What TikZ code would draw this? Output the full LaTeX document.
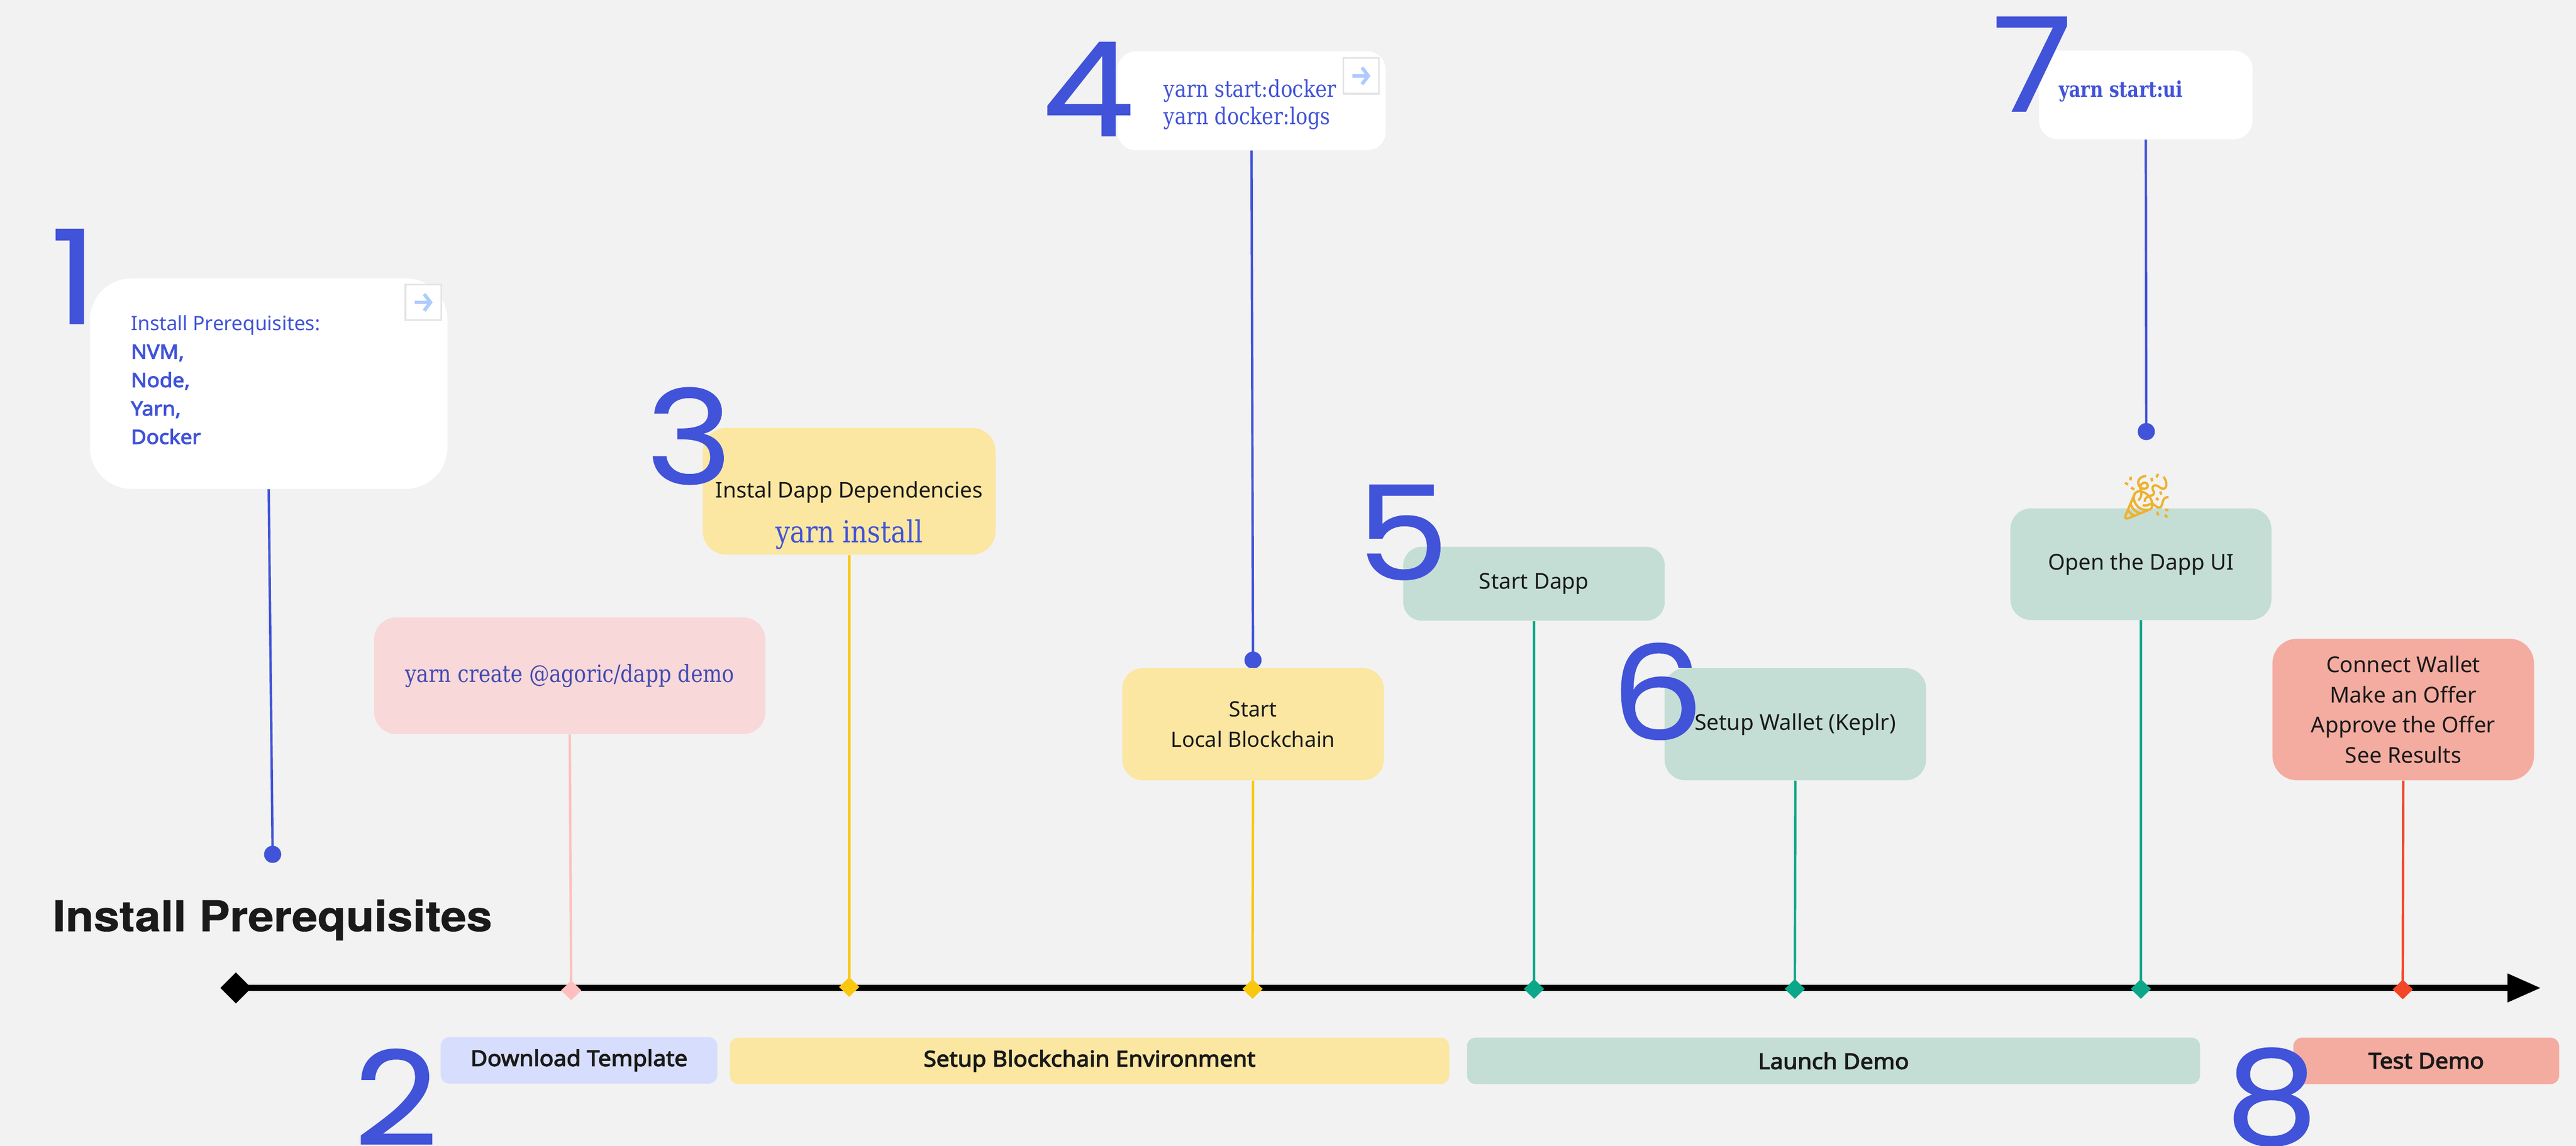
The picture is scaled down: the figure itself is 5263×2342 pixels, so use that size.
\documentclass[tikz,border=0pt]{standalone}
\usepackage{fontspec}
\setmainfont[BoldFont={Noto Sans},BoldFeatures={FakeBold=3.2,FakeStretch=1.06}]{Noto Sans}
\newfontfamily\numfont[FakeStretch=1.12,FakeBold=0.7]{Poppins}
\newfontfamily\titlefont[FakeStretch=1.09,BoldFeatures={FakeBold=0.8}]{TeX Gyre Heros}
\newfontfamily\slabfont[FakeStretch=0.85]{DejaVu Serif}
\newfontfamily\slabheavy[FakeStretch=0.82]{DejaVu Serif}
\newfontfamily\emojifont[FakeBold=1.2]{Noto Emoji}
\usetikzlibrary{arrows.meta,shapes.geometric}
\definecolor{pagebg}{HTML}{F2F2F2}
\definecolor{inkblue}{HTML}{4153D8}
\definecolor{inkdeep}{HTML}{414BB2}
\definecolor{inkdark}{HTML}{1A1A1A}
\definecolor{softpink}{HTML}{F8D8D9}
\definecolor{softyellow}{HTML}{FBE7A2}
\definecolor{softgreen}{HTML}{C4DED6}
\definecolor{softblue}{HTML}{D7DDFC}
\definecolor{softred}{HTML}{F4ACA0}
\definecolor{linepink}{HTML}{FFBFBF}
\definecolor{lineyellow}{HTML}{FAC710}
\definecolor{linegreen}{HTML}{0CA789}
\definecolor{linered}{HTML}{F24726}
\definecolor{iconblue}{HTML}{AECBFF}
\definecolor{iconedge}{HTML}{E4E4E4}
\definecolor{popper}{HTML}{EDB22E}

\begin{document}
\begin{tikzpicture}[x=0.01cm, y=0.01cm]
\tikzstyle{every node}+=[inner sep=0pt, text=inkdark]
\tikzstyle{card}=[rounded corners=0.42cm, align=center, font=\fontsize{12.7}{17.6}\selectfont]
\tikzstyle{barbox}=[rounded corners=0.18cm, minimum height=0.95cm, font=\fontsize{12.7}{17}\selectfont\bfseries]
\tikzstyle{bignum}=[text=inkblue, font=\fontsize{76}{76}\numfont]
\tikzstyle{axismark}=[diamond, minimum width=0.42cm, minimum height=0.41cm]
\tikzstyle{dotpin}=[circle, fill=inkblue, minimum size=0.35cm]
\tikzstyle{slab}=[text=inkblue, font=\fontsize{13.4}{15.8}\slabfont, align=left]
\tikzstyle{iconbox}=[rectangle, fill=white, draw=iconedge, line width=1pt, minimum size=0.73cm]
\tikzstyle{iconarrow}=[iconblue, line width=2pt, -{Straight Barb[length=0.13cm,width=0.34cm]}]
\tikzstyle{stem}=[line width=1.4pt]
\useasboundingbox (0,0) rectangle (5263,-2342);
\fill [pagebg] (0,0) rectangle (5263,-2342);
\node [diamond, fill=black, minimum size=0.64cm] (start) at (482,-2019) {};
\coordinate (axisend) at (5191,-2019);
\draw [black, line width=0.12cm, -{Triangle[length=0.68cm,width=0.56cm]}] (start.center) -- (axisend);
\node [axismark, fill=linepink] (mtemplate) at (1167,-2024) {};
\node [axismark, fill=lineyellow] (mdeps) at (1735,-2017) {};
\node [axismark, fill=lineyellow] (mchain) at (2559,-2021) {};
\node [axismark, fill=linegreen] (mdapp) at (3134,-2021) {};
\node [axismark, fill=linegreen] (mwallet) at (3667,-2021) {};
\node [axismark, fill=linegreen] (mui) at (4374,-2021) {};
\node [axismark, fill=linered] (mtest) at (4909,-2022) {};
\node [dotpin] (pinprereq) at (557,-1746) {};
\node [dotpin] (pinchain) at (2560,-1349) {};
\node [dotpin] (pinui) at (4385,-882) {};
\node [card, fill=white, rounded corners=0.85cm, minimum width=7.30cm, minimum height=4.30cm] (prereq) at (549,-784) {};
\node [iconbox] (iconprereq) at (865,-618) {};
\coordinate (iconprereqa) at (847,-618);
\coordinate (iconprereqb) at (884,-618);
\draw [iconarrow] (iconprereqa) -- (iconprereqb);
\node [anchor=west, align=left, text=inkblue, font=\fontsize{11.5}{16.5}\selectfont] (prereqtext) at (267,-776) {Install Prerequisites:\\\textbf{NVM,}\\\textbf{Node,}\\\textbf{Yarn,}\\\textbf{Docker}};
\node [card, fill=softpink, rounded corners=0.45cm, minimum width=7.99cm, minimum height=2.38cm, slab, text=inkdeep, font=\fontsize{13.8}{15.8}\slabfont] (template) at (1164,-1381) {\raisebox{-6pt}{yarn create @agoric/dapp demo}};
\node [card, fill=softyellow, rounded corners=0.48cm, minimum width=5.98cm, minimum height=2.59cm] (deps) at (1735,-1004) {};
\node [font=\fontsize{12.6}{14}\selectfont, anchor=base] (depstext) at (1735,-1017) {Instal Dapp Dependencies};
\node [text=inkblue, font=\fontsize{17.6}{18}\slabfont, anchor=base] (depsyarn) at (1735,-1109) {yarn install};
\node [card, fill=white, rounded corners=0.38cm, minimum width=5.48cm, minimum height=2.02cm] (docker) at (2557,-206) {};
\node [iconbox] (icondocker) at (2781,-155) {};
\coordinate (icondockera) at (2763,-155);
\coordinate (icondockerb) at (2800,-155);
\draw [iconarrow] (icondockera) -- (icondockerb);
\node [slab, anchor=west] (dockertext) at (2377,-214) {yarn start:docker\\yarn docker:logs};
\node [card, fill=softyellow, minimum width=5.34cm, minimum height=2.29cm, font=\fontsize{12.3}{17.6}\selectfont] (chain) at (2560,-1480) {Start\\Local Blockchain};
\node [card, fill=softgreen, rounded corners=0.38cm, minimum width=5.34cm, minimum height=1.51cm] (dapp) at (3134,-1193) {Start Dapp};
\node [card, fill=softgreen, minimum width=5.34cm, minimum height=2.29cm] (wallet) at (3668,-1480) {Setup Wallet (Keplr)};
\node [card, fill=softgreen, minimum width=5.33cm, minimum height=2.28cm] (ui) at (4374,-1153) {Open the Dapp UI};
\node [font=\fontsize{26}{26}\emojifont, text=popper] (party) at (4385,-1015) {🎉};
\node [card, fill=white, rounded corners=0.38cm, minimum width=4.36cm, minimum height=1.81cm] (uiyarn) at (4384,-194) {};
\node [text=inkblue, font=\fontsize{12.6}{15}\slabheavy\bfseries, anchor=west] (uitext) at (4206,-187) {yarn start:ui};
\node [card, fill=softred, rounded corners=0.5cm, minimum width=5.34cm, minimum height=2.89cm] (test) at (4910,-1450) {Connect Wallet\\Make an Offer\\Approve the Offer\\See Results};
\draw [inkblue, stem] (prereq.south) -- (pinprereq.center);
\draw [inkblue, stem] (docker.south) -- (pinchain.center);
\draw [inkblue, stem] (uiyarn.south) -- (pinui.center);
\draw [linepink, stem] (template.south) -- (mtemplate.center);
\draw [lineyellow, stem] (deps.south) -- (mdeps.center);
\draw [lineyellow, stem] (chain.south) -- (mchain.center);
\draw [linegreen, stem] (dapp.south) -- (mdapp.center);
\draw [linegreen, stem] (wallet.south) -- (mwallet.center);
\draw [linegreen, stem] (ui.south) -- (mui.center);
\draw [linered, stem] (test.south) -- (mtest.center);
\node [font=\fontsize{24.6}{30}\titlefont\bfseries, anchor=base west] (title) at (107,-1903) {Install Prerequisites};
\node [barbox, fill=softblue, minimum width=5.65cm] (bardownload) at (1183,-2167) {Download Template};
\node [barbox, fill=softyellow, minimum width=14.69cm] (barsetup) at (2226,-2168) {Setup Blockchain Environment};
\node [barbox, fill=softgreen, minimum width=14.97cm] (barlaunch) at (3746,-2168) {Launch Demo};
\node [barbox, fill=softred, minimum width=5.43cm] (bartest) at (4957,-2168) {Test Demo};
\node [bignum] (num1) at (151,-565) {1};
\node [bignum] (num2) at (809,-2242) {2};
\node [bignum] (num3) at (1408,-891) {3};
\node [bignum] (num4) at (2223,-182) {4};
\node [bignum] (num5) at (2866,-1088) {5};
\node [bignum] (num6) at (3386,-1413) {6};
\node [bignum] (num7) at (4152,-131) {7};
\node [bignum] (num8) at (4641,-2242) {8};
\end{tikzpicture}
\end{document}
